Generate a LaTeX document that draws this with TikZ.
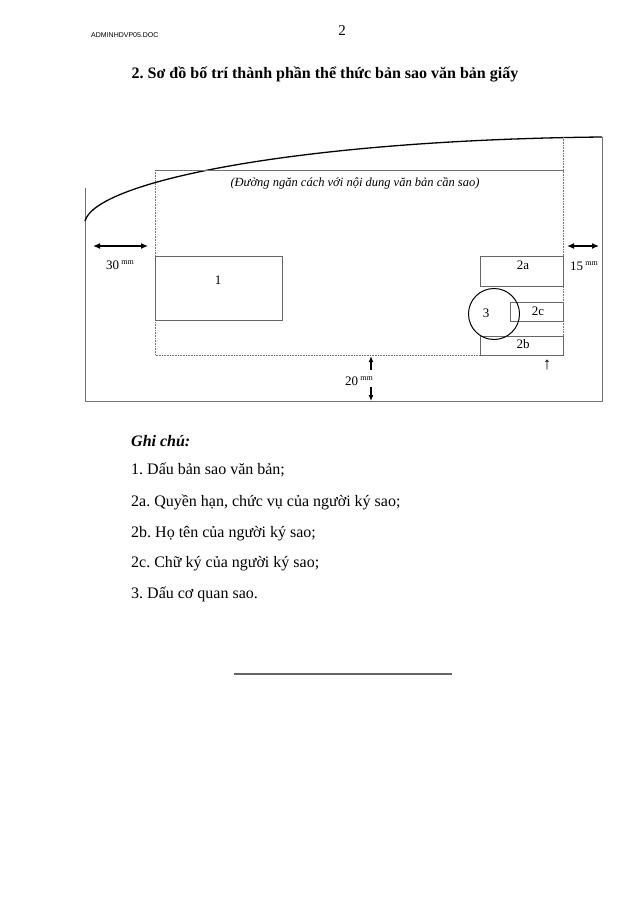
\documentclass[tikz,border=0pt]{standalone}
\usepackage{fontspec}
\setmainfont{Liberation Serif}
\newfontfamily\hdrfont{Liberation Sans}
\usetikzlibrary{arrows.meta}
\frenchspacing
\begin{document}
\begin{tikzpicture}[x=1pt,y=-1pt,
  frameline/.style={draw=black!55, line width=0.9pt},
  dotline/.style={draw=black!55, line width=0.8pt, dash pattern=on 0.8pt off 0.8pt},
  boxx/.style={draw=black!60, line width=0.9pt, rectangle, inner sep=0pt},
  lbl/.style={inner sep=0pt, font=\fontsize{13}{15}\selectfont},
  dimarrow/.style={line width=1.3pt, {Latex[length=7pt,width=6pt]}-{Latex[length=7pt,width=6pt]}},
  onearrow/.style={line width=1.2pt, -{Latex[length=6pt,width=5pt]}},
  legend/.style={anchor=base west, inner sep=0pt, font=\fontsize{16}{19}\selectfont},
  mm/.style={font=\fontsize{8}{8}\selectfont}
]
\useasboundingbox[fill=white] (0,0) rectangle (640,905);

% header
\node[anchor=base west, inner sep=0pt, font=\hdrfont\fontsize{7}{8}\selectfont] (hdr) at (91,37) {ADMINHDVP05.DOC};
\node[anchor=base, inner sep=0pt, font=\fontsize{15}{18}\selectfont] (pg) at (342,35) {2};
\node[anchor=base, inner sep=0pt, font=\bfseries\fontsize{16}{19}\selectfont] (title) at (325,78) {2. Sơ đồ bố trí thành phần thể thức bản sao văn bản giấy};

% outer frame
\coordinate (tl) at (85,188);
\coordinate (cl) at (85,221);
\coordinate (bl) at (85,401);
\coordinate (br) at (602,401);
\coordinate (tr) at (602,137);
\draw[frameline] (tl) -- (bl) -- (br) -- (tr);
\draw[line width=1.3pt] (cl) .. controls (96,181) and (300,140) .. (tr);

% inner region
\coordinate (itl) at (155,170);
\coordinate (itr) at (563.5,170);
\coordinate (irt) at (563.5,137);
\coordinate (ibl) at (155,355);
\coordinate (ibr) at (563.5,355);
\draw[frameline, line width=0.7pt] (itl) -- (itr);
\draw[dotline] (itl) -- (ibl) -- (ibr);
\draw[dotline] (irt) -- (ibr);

\node[anchor=base, inner sep=0pt, font=\itshape\fontsize{12.5}{15}\selectfont] (sep) at (355,186) {(Đường ngăn cách với nội dung văn bản cần sao)};

% boxes
\node[boxx, minimum width=127pt, minimum height=64pt] (b1) at (218.5,288.5) {};
\node[lbl] (l1) at (218,280) {1};
\node[boxx, minimum width=83.5pt, minimum height=30pt] (b2a) at (521.75,271) {};
\node[lbl] (l2a) at (523,265) {2a};
\node[boxx, minimum width=53.5pt, minimum height=19pt] (b2c) at (536.75,311.5) {};
\node[lbl] (l2c) at (538,311) {2c};
\node[boxx, minimum width=83.5pt, minimum height=19pt] (b2b) at (521.75,345.5) {};
\node[lbl] (l2b) at (523,344) {2b};
\node[draw=black, line width=1pt, circle, minimum size=51pt, inner sep=0pt] (c3) at (494,314) {};
\node[lbl] (l3) at (486,313) {3};
\node[lbl, font=\fontsize{17}{18}\selectfont] (up) at (547,365) {↑};

% dimension arrows
\coordinate (a30l) at (93,246);
\coordinate (a30r) at (148,246);
\draw[dimarrow] (a30l) -- (a30r);
\node[anchor=base west, inner sep=0pt, font=\fontsize{13}{15}\selectfont] (t30) at (106,269) {30\,\raisebox{5pt}{\fontsize{8}{8}\selectfont mm}};

\coordinate (a15l) at (567,246);
\coordinate (a15r) at (599,246);
\draw[dimarrow] (a15l) -- (a15r);
\node[anchor=base west, inner sep=0pt, font=\fontsize{13}{15}\selectfont] (t15) at (570,270) {15\,\raisebox{5pt}{\fontsize{8}{8}\selectfont mm}};

\coordinate (a20a) at (371,370);
\coordinate (a20b) at (371,356);
\coordinate (a20c) at (371,387);
\coordinate (a20d) at (371,401);
\draw[onearrow] (a20a) -- (a20b);
\draw[onearrow] (a20c) -- (a20d);
\node[anchor=base west, inner sep=0pt, font=\fontsize{13}{15}\selectfont] (t20) at (345,385) {20\,\raisebox{5pt}{\fontsize{8}{8}\selectfont mm}};

% legend
\node[legend, font=\bfseries\itshape\fontsize{16}{19}\selectfont] (g0) at (131,446) {Ghi chú:};
\node[legend] (g1) at (131,474) {1. Dấu bản sao văn bản;};
\node[legend] (g2) at (131,506) {2a. Quyền hạn, chức vụ của người ký sao;};
\node[legend] (g3) at (131,537) {2b. Họ tên của người ký sao;};
\node[legend] (g4) at (131,567) {2c. Chữ ký của người ký sao;};
\node[legend] (g5) at (131,598) {3. Dấu cơ quan sao.};

% bottom rule
\coordinate (rl) at (234,674);
\coordinate (rr) at (452,674);
\draw[draw=black!60, line width=1.3pt] (rl) -- (rr);
\end{tikzpicture}
\end{document}
